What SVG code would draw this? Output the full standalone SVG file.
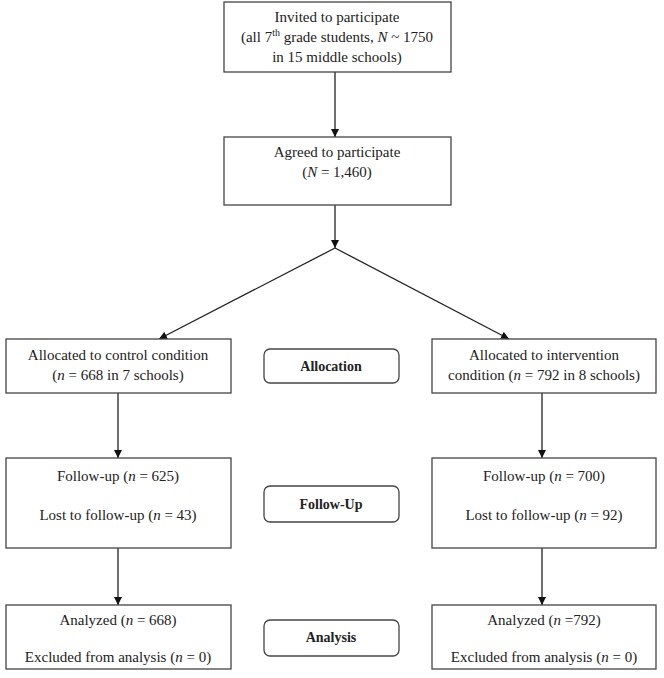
<svg xmlns="http://www.w3.org/2000/svg" width="664" height="678" viewBox="0 0 664 678">
<style>
  .box{fill:#fff;stroke:#444;stroke-width:1.3}
  .pill{fill:#fff;stroke:#444;stroke-width:1.3}
  text{font-family:"Liberation Serif","Times New Roman",serif;font-size:15px;fill:#222;text-anchor:middle}
  .b{font-weight:bold;font-size:14px}
  .i{font-style:italic}
  .conn{stroke:#222;stroke-width:1.3;fill:none;marker-end:url(#ah)}
</style>
<defs>
  <marker id="ah" viewBox="0 0 10 10" refX="10" refY="5" markerWidth="8" markerHeight="8" markerUnits="userSpaceOnUse" orient="auto">
    <path d="M0,0 L10,5 L0,10 z" fill="#111"/>
  </marker>
</defs>
<rect width="664" height="678" fill="#fff"/>
<g id="connectors">
  <line class="conn" x1="335" y1="72" x2="335" y2="137"/>
  <line class="conn" x1="335" y1="205" x2="335" y2="248"/>
  <line class="conn" x1="335" y1="248" x2="159" y2="339"/>
  <line class="conn" x1="335" y1="248" x2="509" y2="339"/>
  <line class="conn" x1="118" y1="393" x2="118" y2="458"/>
  <line class="conn" x1="542" y1="393" x2="542" y2="458"/>
  <line class="conn" x1="118" y1="548" x2="118" y2="605"/>
  <line class="conn" x1="542" y1="548" x2="542" y2="605"/>
</g>
<g id="invited">
  <rect class="box" x="224" y="2" width="227" height="70"/>
  <text x="337" y="22">Invited to participate</text>
  <text x="337" y="42">(all 7<tspan dy="-6" font-size="10">th</tspan><tspan dy="6"> grade students, </tspan><tspan class="i">N</tspan> ~ 1750</text>
  <text x="337" y="62">in 15 middle schools)</text>
</g>
<g id="agreed">
  <rect class="box" x="224" y="137" width="227" height="68"/>
  <text x="337" y="157">Agreed to participate</text>
  <text x="337" y="177">(<tspan class="i">N</tspan> = 1,460)</text>
</g>
<g id="control">
  <rect class="box" x="6" y="339" width="225" height="54"/>
  <text x="118" y="360">Allocated to control condition</text>
  <text x="118" y="380">(<tspan class="i">n</tspan> = 668 in 7 schools)</text>
</g>
<g id="allocation">
  <rect class="pill" x="264" y="349" width="135" height="34" rx="6"/>
  <text class="b" x="331" y="371">Allocation</text>
</g>
<g id="intervention">
  <rect class="box" x="432" y="339" width="224" height="54"/>
  <text x="544" y="360">Allocated to intervention</text>
  <text x="544" y="380">condition (<tspan class="i">n</tspan> = 792 in 8 schools)</text>
</g>
<g id="followup-control">
  <rect class="box" x="6" y="458" width="225" height="90"/>
  <text x="118" y="481">Follow-up (<tspan class="i">n</tspan> = 625)</text>
  <text x="118" y="520">Lost to follow-up (<tspan class="i">n</tspan> = 43)</text>
</g>
<g id="followup">
  <rect class="pill" x="264" y="486" width="135" height="36" rx="6"/>
  <text class="b" x="331" y="509">Follow-Up</text>
</g>
<g id="followup-intervention">
  <rect class="box" x="432" y="458" width="224" height="90"/>
  <text x="544" y="481">Follow-up (<tspan class="i">n</tspan> = 700)</text>
  <text x="544" y="520">Lost to follow-up (<tspan class="i">n</tspan> = 92)</text>
</g>
<g id="analysis-control">
  <rect class="box" x="6" y="605" width="225" height="64"/>
  <text x="118" y="625">Analyzed (<tspan class="i">n</tspan> = 668)</text>
  <text x="118" y="662">Excluded from analysis (<tspan class="i">n</tspan> = 0)</text>
</g>
<g id="analysis">
  <rect class="pill" x="264" y="620" width="135" height="36" rx="6"/>
  <text class="b" x="331" y="642">Analysis</text>
</g>
<g id="analysis-intervention">
  <rect class="box" x="432" y="605" width="224" height="64"/>
  <text x="544" y="625">Analyzed (<tspan class="i">n</tspan> =792)</text>
  <text x="544" y="662">Excluded from analysis (<tspan class="i">n</tspan> = 0)</text>
</g>
</svg>
